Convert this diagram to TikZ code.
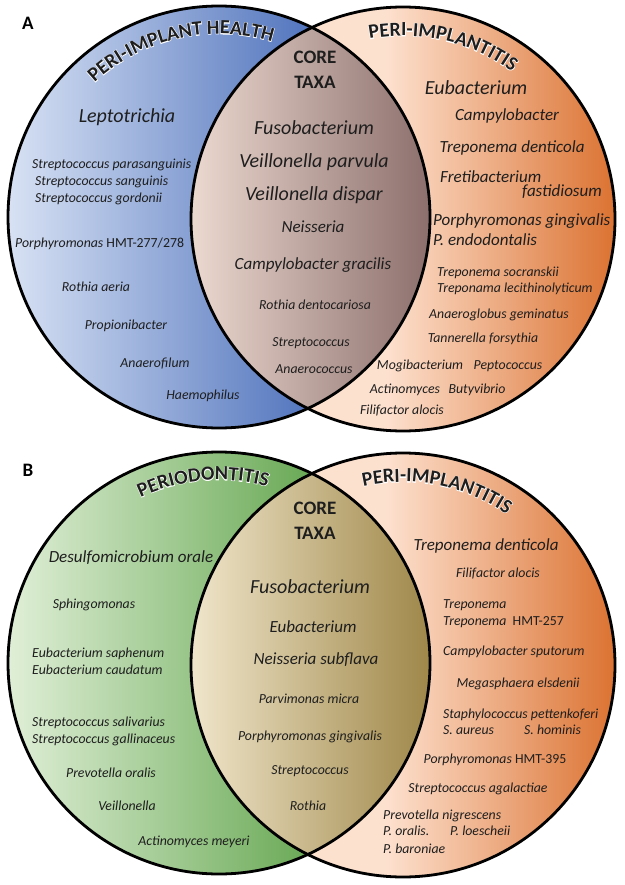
\documentclass[tikz,border=0pt]{standalone}
\usepackage{fontspec}
\setmainfont{Carlito}
\newfontfamily\glowfamily{Carlito}[BoldFeatures={FakeBold=5}]
\usepackage{tikz}
\usetikzlibrary{decorations.text}

\definecolor{txt}{HTML}{1E1E1E}
\definecolor{hlthL}{HTML}{D8E2F4}
\definecolor{hlthR}{HTML}{5174BD}
\definecolor{periL}{HTML}{FDE1CF}
\definecolor{periR}{HTML}{DB7231}
\definecolor{coreAL}{HTML}{ECD9D0}
\definecolor{coreAR}{HTML}{8C6F6C}
\definecolor{perioL}{HTML}{E0EFD7}
\definecolor{perioR}{HTML}{69A955}
\definecolor{coreBL}{HTML}{F0E6CB}
\definecolor{coreBR}{HTML}{9F8749}

\newcommand{\sizeS}{\fontsize{13.8}{16}\selectfont}
\newcommand{\sizeM}{\fontsize{17}{20}\selectfont}
\newcommand{\sizeL}{\fontsize{20}{24}\selectfont}
\newcommand{\titlefont}{\fontsize{20}{23}\selectfont\bfseries}
\newcommand{\glowfont}{\glowfamily\fontsize{20}{23}\selectfont\bfseries}

% curved title with a white glow: centre x, centre y, radius, mid angle, text
\newcommand{\arctitle}[5]{%
  \path[decorate,decoration={text along path,text align=center,text color=white,
    text={|\glowfont|#5}}]
    (#1,#2) ++({#4+45}:#3) arc[start angle={#4+45},end angle={#4-45},radius=#3];
  \path[decorate,decoration={text along path,text align=center,text color=txt,
    text={|\titlefont|#5}}]
    (#1,#2) ++({#4+45}:#3) arc[start angle={#4+45},end angle={#4-45},radius=#3];
}

\tikzset{
  taxon/.style={font=\sizeS\itshape,text=txt,inner sep=0pt,text height=0.72em,text depth=0.22em},
  taxonM/.style={taxon,font=\sizeM\itshape},
  taxonL/.style={taxon,font=\sizeL\itshape},
  core/.style={font=\fontsize{19}{25}\selectfont\bfseries,text=txt,align=center,inner sep=0pt},
  panel/.style={font=\fontsize{19}{21}\selectfont\bfseries,text=black,inner sep=0pt},
  ring/.style={draw=black,line width=2.8pt},
}

\begin{document}
\begin{tikzpicture}[x=1pt,y=1pt]
    \useasboundingbox (0,0) rectangle (624,-885);

    % ---------- Panel A ----------
    \begin{scope}
        \clip (219,-217) circle[radius=211];
        \shade[left color=hlthL,right color=hlthR] (8,-4) rectangle (312,-430);
    \end{scope}
    \begin{scope}
        \clip (403,-219) circle[radius=212];
        \fill[periL] (300,-4) rectangle (616,-432);
        \shade[left color=periL,right color=periR] (385,-4) rectangle (616,-432);
    \end{scope}
    \begin{scope}
        \clip (219,-217) circle[radius=211];
        \clip (403,-219) circle[radius=212];
        \shade[left color=coreAL,right color=coreAR] (190,-4) rectangle (430,-432);
    \end{scope}
    \draw[ring] (219,-217) circle[radius=211];
    \draw[ring] (403,-219) circle[radius=212];

    \node[panel] (labA) at (28,-23) {A};
    \arctitle{219}{-217}{183}{103}{PERI-IMPLANT HEALTH}
    \arctitle{403}{-219}{183}{77}{PERI-IMPLANTITIS}
    \node[core] (coreA) at (315,-70) {CORE\\TAXA};

    % health only
    \node[taxonL] (hLep) at (127,-120) {Leptotrichia};
    \node[taxon,anchor=west] (hStr1) at (32,-166) {Streptococcus parasanguinis};
    \node[taxon,anchor=west] (hStr2) at (35,-183) {Streptococcus sanguinis};
    \node[taxon,anchor=west] (hStr3) at (35,-200) {Streptococcus gordonii};
    \node[taxon,anchor=west] (hPor) at (15,-245) {Porphyromonas \textup{HMT-277/278}};
    \node[taxon] (hRot) at (96,-289) {Rothia aeria};
    \node[taxon] (hPro) at (126,-327) {Propionibacter};
    \node[taxon] (hAna) at (155,-365) {Anaerofilum};
    \node[taxon] (hHae) at (203,-397) {Haemophilus};

    % core A
    \node[taxonL] (aFus) at (314,-132) {Fusobacterium};
    \node[taxonL] (aVpa) at (314,-165) {Veillonella parvula};
    \node[taxonL] (aVdi) at (314,-198) {Veillonella dispar};
    \node[taxonM] (aNei) at (313,-230) {Neisseria};
    \node[taxonM] (aCam) at (313,-267) {Campylobacter gracilis};
    \node[taxon] (aRot) at (315,-307) {Rothia dentocariosa};
    \node[taxon] (aStr) at (311,-344) {Streptococcus};
    \node[taxon] (aAna) at (314,-371) {Anaerococcus};

    % peri-implantitis A
    \node[taxonL] (pEub) at (476,-92) {Eubacterium};
    \node[taxonM] (pCam) at (507,-118) {Campylobacter};
    \node[taxonM] (pTre) at (512,-150) {Treponema denticola};
    \node[taxonM,anchor=west] (pFre) at (440,-180) {Fretibacterium};
    \node[taxonM,anchor=east] (pFas) at (602,-194) {fastidiosum};
    \node[taxonM,anchor=west] (pPgi) at (433,-223) {Porphyromonas gingivalis};
    \node[taxonM,anchor=west] (pPen) at (433,-243) {P. endodontalis};
    \node[taxon,anchor=west] (pTso) at (437,-274) {Treponema socranskii};
    \node[taxon,anchor=west] (pTle) at (437,-290) {Treponama lecithinolyticum};
    \node[taxon] (pAng) at (499,-316) {Anaeroglobus geminatus};
    \node[taxon] (pTan) at (483,-340) {Tannerella forsythia};
    \node[taxon] (pMog) at (420,-367) {Mogibacterium};
    \node[taxon] (pPep) at (508,-367) {Peptococcus};
    \node[taxon] (pAct) at (405,-391) {Actinomyces};
    \node[taxon] (pBut) at (477,-391) {Butyvibrio};
    \node[taxon] (pFil) at (402,-412) {Filifactor alocis};

    % ---------- Panel B ----------
    \begin{scope}
        \clip (219,-663) circle[radius=211];
        \shade[left color=perioL,right color=perioR] (8,-450) rectangle (312,-876);
    \end{scope}
    \begin{scope}
        \clip (403,-665) circle[radius=212];
        \fill[periL] (300,-450) rectangle (616,-878);
        \shade[left color=periL,right color=periR] (385,-450) rectangle (616,-878);
    \end{scope}
    \begin{scope}
        \clip (219,-663) circle[radius=211];
        \clip (403,-665) circle[radius=212];
        \shade[left color=coreBL,right color=coreBR] (190,-450) rectangle (430,-878);
    \end{scope}
    \draw[ring] (219,-663) circle[radius=211];
    \draw[ring] (403,-665) circle[radius=212];

    \node[panel] (labB) at (28,-470) {B};
    \arctitle{219}{-663}{183}{95}{PERIODONTITIS}
    \arctitle{403}{-665}{183}{79}{PERI-IMPLANTITIS}
    \node[core] (coreB) at (315,-521) {CORE\\TAXA};

    % periodontitis only
    \node[taxonM] (dDes) at (131,-560) {Desulfomicrobium orale};
    \node[taxon] (dSph) at (94,-606) {Sphingomonas};
    \node[taxon,anchor=west] (dEs1) at (32,-655) {Eubacterium saphenum};
    \node[taxon,anchor=west] (dEs2) at (32,-672) {Eubacterium caudatum};
    \node[taxon,anchor=west] (dSt1) at (32,-724) {Streptococcus salivarius};
    \node[taxon,anchor=west] (dSt2) at (32,-741) {Streptococcus gallinaceus};
    \node[taxon] (dPre) at (111,-775) {Prevotella oralis};
    \node[taxon] (dVei) at (127,-808) {Veillonella};
    \node[taxon] (dAct) at (194,-843) {Actinomyces meyeri};

    % core B
    \node[taxonL] (bFus) at (310,-591) {Fusobacterium};
    \node[taxonM] (bEub) at (313,-630) {Eubacterium};
    \node[taxonM] (bNei) at (316,-662) {Neisseria subflava};
    \node[taxon] (bPar) at (309,-701) {Parvimonas micra};
    \node[taxon] (bPor) at (310,-738) {Porphyromonas gingivalis};
    \node[taxon] (bStr) at (310,-772) {Streptococcus};
    \node[taxon] (bRot) at (308,-808) {Rothia};

    % peri-implantitis B
    \node[taxonM] (qTre) at (486,-548) {Treponema denticola};
    \node[taxon] (qFil) at (498,-575) {Filifactor alocis};
    \node[taxon,anchor=west] (qTr1) at (443,-606) {Treponema};
    \node[taxon,anchor=west] (qTr2) at (443,-623) {Treponema\ \ \textup{HMT-257}};
    \node[taxon,anchor=west] (qCam) at (443,-653) {Campylobacter sputorum};
    \node[taxon] (qMeg) at (518,-685) {Megasphaera elsdenii};
    \node[taxon,anchor=west] (qSta) at (443,-716) {Staphylococcus pettenkoferi};
    \node[taxon,anchor=west] (qSau) at (443,-732) {S. aureus};
    \node[taxon,anchor=west] (qSho) at (524,-732) {S. hominis};
    \node[taxon] (qPor) at (495,-761) {Porphyromonas \textup{HMT-395}};
    \node[taxon] (qStr) at (478,-790) {Streptococcus agalactiae};
    \node[taxon,anchor=west] (qPni) at (383,-817) {Prevotella nigrescens};
    \node[taxon,anchor=west] (qPor2) at (383,-833) {P. oralis.};
    \node[taxon,anchor=west] (qPlo) at (450,-833) {P. loescheii};
    \node[taxon,anchor=west] (qPba) at (383,-851) {P. baroniae};
\end{tikzpicture}
\end{document}
